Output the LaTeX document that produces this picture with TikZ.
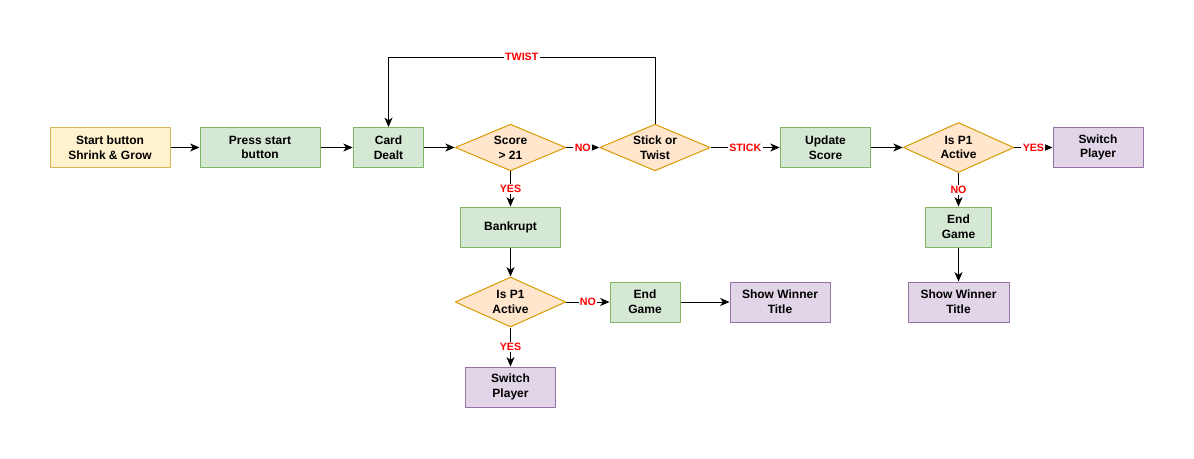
\documentclass[tikz,border=0pt]{standalone}
\usepackage{fontspec}
\setmainfont{Liberation Sans}
\usetikzlibrary{shapes.geometric,arrows.meta}
\definecolor{yelfill}{HTML}{FFF2CC}
\definecolor{yeldraw}{HTML}{D6B656}
\definecolor{grnfill}{HTML}{D5E8D4}
\definecolor{grndraw}{HTML}{82B366}
\definecolor{orgfill}{HTML}{FFE6CC}
\definecolor{orgdraw}{HTML}{D79B00}
\definecolor{purfill}{HTML}{E1D5E7}
\definecolor{purdraw}{HTML}{9673A6}
\begin{document}
\begin{tikzpicture}[x=0.75pt,y=-0.75pt,line width=0.75pt,line join=round,
	font=\fontsize{9}{11}\selectfont\bfseries,
	>={Stealth[length=7pt,width=6pt,inset=2pt]},
	box/.style={rectangle,align=center,minimum height=30pt,inner sep=2pt},
	yel/.style={box,draw=yeldraw,fill=yelfill},
	grn/.style={box,draw=grndraw,fill=grnfill},
	pur/.style={box,draw=purdraw,fill=purfill},
	dia/.style={diamond,aspect=2.5,inner sep=0pt,align=center,draw=orgdraw,fill=orgfill,minimum width=83pt,minimum height=35pt},
	lbl/.style={fill=white,text=red,inner sep=1pt,font=\fontsize{8}{9}\selectfont\bfseries}]
	\useasboundingbox (0,0) rectangle (1194,458);
	% top row
	\node[yel,minimum width=90pt] (start) at (110,147.5) {Start button\\Shrink \& Grow};
	\node[grn,minimum width=90pt] (press) at (260,147.5) {Press start\\button};
	\node[grn,minimum width=53pt] (card) at (388.5,147.5) {Card\\Dealt};
	\node[dia] (score) at (510.5,147.5) {Score\\> 21};
	\node[dia] (stick) at (655,147.5) {Stick or\\Twist};
	\node[grn,minimum width=68pt] (update) at (825.5,147.5) {Update\\Score};
	\node[dia,minimum height=37.5pt] (activeA) at (958.5,147.5) {Is P1\\Active};
	\node[pur,minimum width=67.5pt] (switchA) at (1098,147.5) {Switch\\Player};
	\node[grn,minimum width=49pt] (endA) at (958.5,227) {End\\Game};
	\node[pur,minimum width=75.75pt] (winA) at (958.5,302) {Show Winner\\Title};
	% bust branch
	\node[grn,minimum width=75pt] (bankrupt) at (510.5,227) {Bankrupt};
	\node[dia,minimum height=37.5pt] (activeB) at (510.5,302) {Is P1\\Active};
	\node[grn,minimum width=52.5pt] (endB) at (645,302) {End\\Game};
	\node[pur,minimum width=75pt] (winB) at (780,302) {Show Winner\\Title};
	\node[pur,minimum width=67.5pt] (switchB) at (510.5,387) {Switch\\Player};
	\coordinate (twist) at (0,57);
	
	\draw[->] (start) -- (press);
	\draw[->] (press) -- (card);
	\draw[->] (card) -- (score);
	\draw[->] (score) -- node[lbl]{NO} (stick);
	\draw[->] (score) -- node[lbl]{YES} (bankrupt);
	\draw[->] (stick.north) -- (stick.north |- twist) -- node[lbl]{TWIST} (card.north |- twist) -- (card.north);
	\draw[->] (stick) -- node[lbl]{STICK} (update);
	\draw[->] (update) -- (activeA);
	\draw[->] (activeA) -- node[lbl]{YES} (switchA);
	\draw[->] (activeA) -- node[lbl]{NO} (endA);
	\draw[->] (endA) -- (winA);
	\draw[->] (bankrupt) -- (activeB);
	\draw[->] (activeB) -- node[lbl]{NO} (endB);
	\draw[->] (activeB) -- node[lbl]{YES} (switchB);
	\draw[->] (endB) -- (winB);
\end{tikzpicture}
\end{document}
